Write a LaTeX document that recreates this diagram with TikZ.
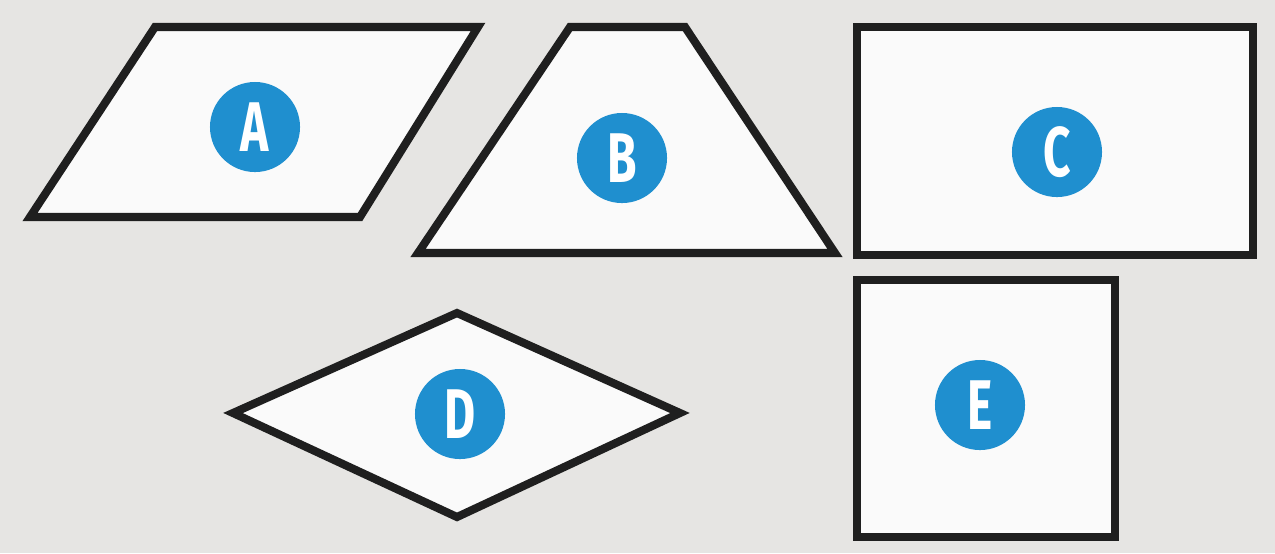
\documentclass[tikz,border=0pt]{standalone}
\usepackage{fontspec}
\setmainfont{Fira Sans}
\usepackage{tikz}

\definecolor{bgray}{HTML}{E6E5E3}
\definecolor{sfill}{HTML}{FAFAFA}
\definecolor{cblue}{HTML}{1F8FCF}

\tikzset{
	shapeline/.style={draw=black!88, fill=sfill, line width=2.3pt},
	letterdot/.style={circle, fill=cblue, minimum size=0.9cm, inner sep=0pt, text=white, font=\fontsize{20}{20}\selectfont\bfseries},
}
\newcommand{\narrowletter}[1]{\scalebox{0.68}[1]{#1}}

\begin{document}
\begin{tikzpicture}[x=0.01cm, y=-0.01cm]
			\fill[bgray] (0,0) rectangle (1275,553);
			\useasboundingbox (0,0) rectangle (1275,553);
			\begin{scope}
				% parallelogram
				\draw[shapeline] (155,27) -- (478,27) -- (360,217) -- (30,217) -- cycle;
				\node[letterdot] (A) at (255,127) {\narrowletter{A}};

				% trapezoid
				\draw[shapeline] (570,27) -- (685,27) -- (835,253) -- (418,253) -- cycle;
				\node[letterdot] (B) at (622,158) {\narrowletter{B}};

				% rectangle
				\draw[shapeline] (857,27) rectangle (1253,255);
				\node[letterdot] (C) at (1057,152) {\narrowletter{C}};

				% rhombus
				\draw[shapeline] (233,413) -- (457,313) -- (680,413) -- (457,517) -- cycle;
				\node[letterdot] (D) at (460,414) {\narrowletter{D}};

				% square
				\draw[shapeline] (857,280) rectangle (1115,537);
				\node[letterdot] (E) at (980,405) {\narrowletter{E}};
			\end{scope}
		\end{tikzpicture}
\end{document}
